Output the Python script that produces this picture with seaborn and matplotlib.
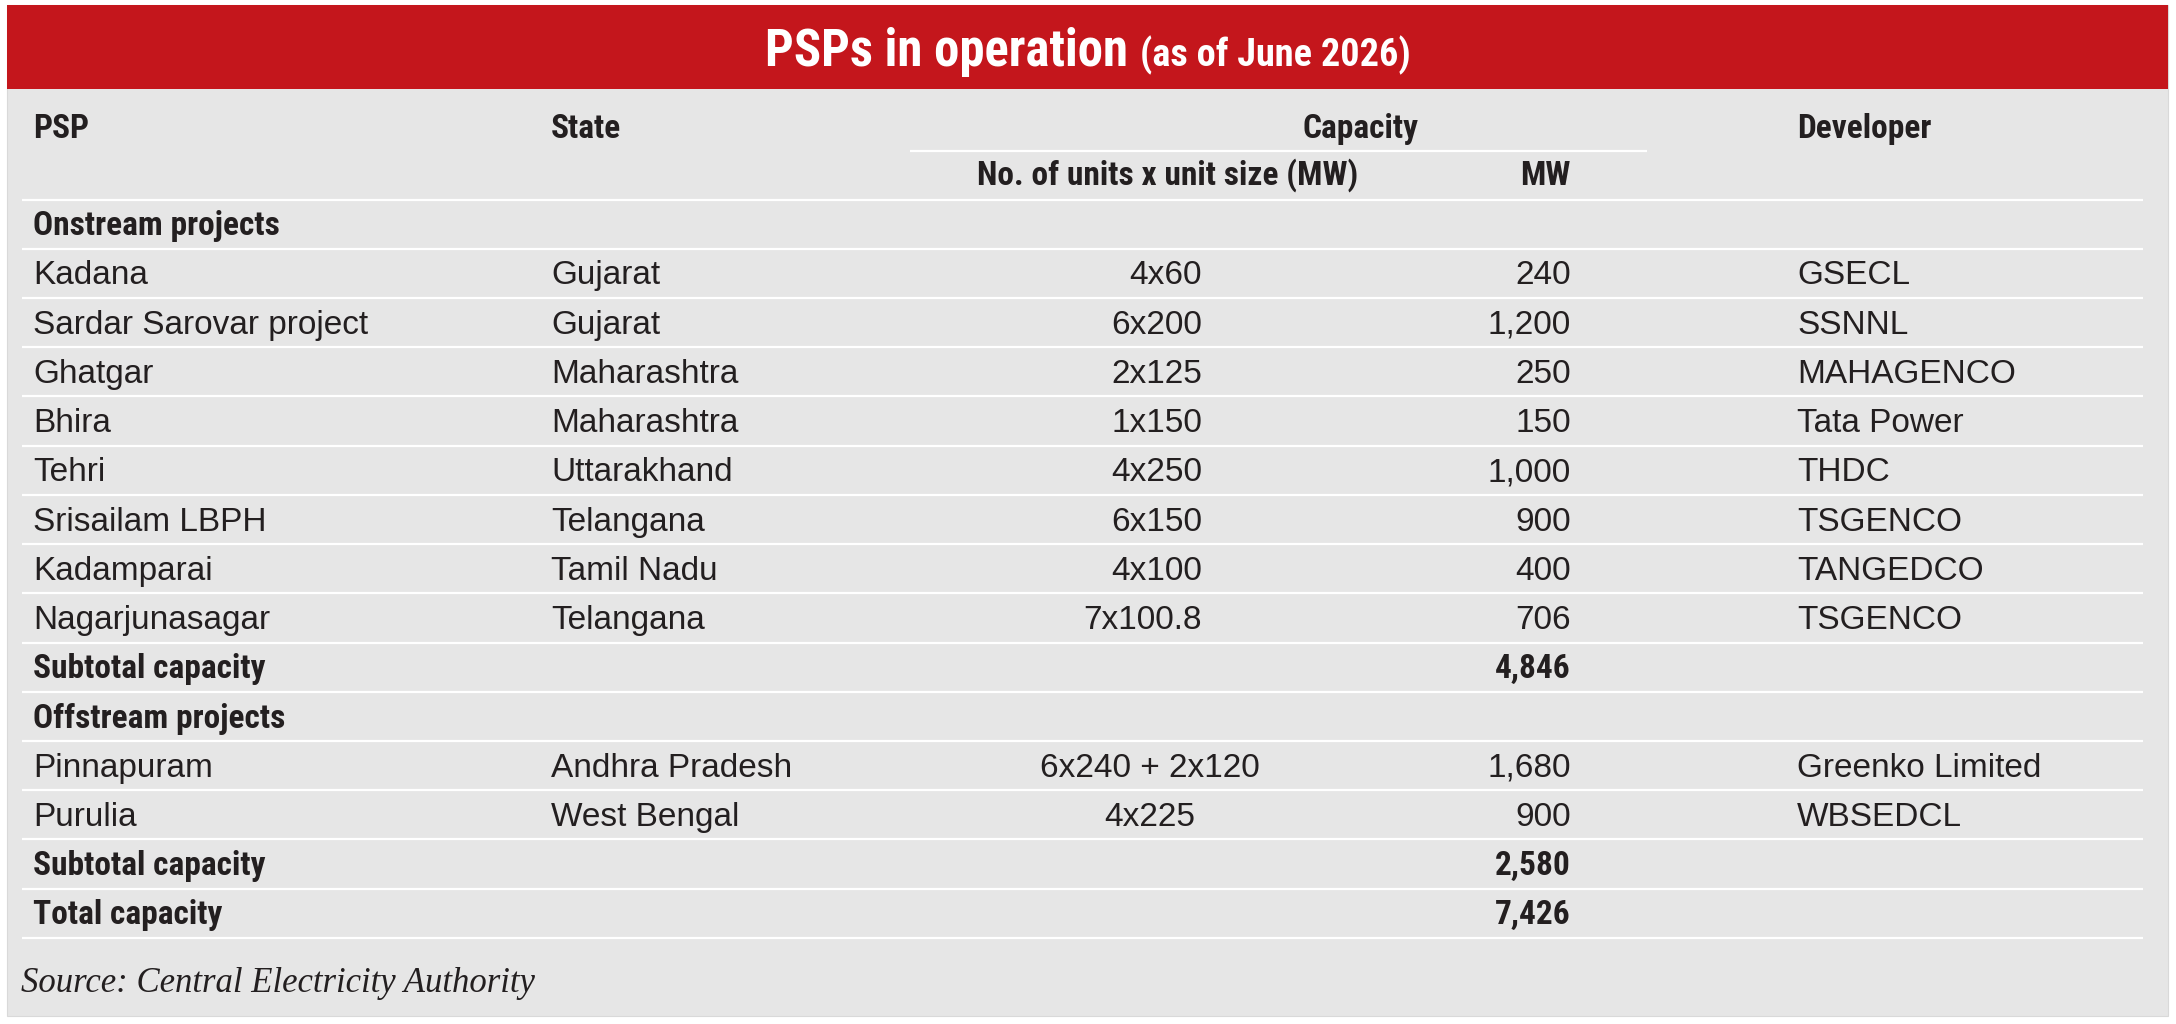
import matplotlib
matplotlib.use("Agg")
import matplotlib.pyplot as plt
import matplotlib.font_manager as fm
from matplotlib.patches import Rectangle
import seaborn as sns

# ---------------- data ----------------
title_main = "PSPs in operation"
title_sub = "(as of June 2026)"
col_headers = ["PSP", "State", "Capacity", "Developer"]
sub_headers = ["No. of units x unit size (MW)", "MW"]

on_psp = ["Kadana", "Sardar Sarovar project", "Ghatgar", "Bhira", "Tehri",
          "Srisailam LBPH", "Kadamparai", "Nagarjunasagar"]
on_state = ["Gujarat", "Gujarat", "Maharashtra", "Maharashtra", "Uttarakhand",
            "Telangana", "Tamil Nadu", "Telangana"]
on_units = ["4x60", "6x200", "2x125", "1x150", "4x250", "6x150", "4x100", "7x100.8"]
on_mw = [240, 1200, 250, 150, 1000, 900, 400, 706]
on_dev = ["GSECL", "SSNNL", "MAHAGENCO", "Tata Power", "THDC", "TSGENCO",
          "TANGEDCO", "TSGENCO"]

off_psp = ["Pinnapuram", "Purulia"]
off_state = ["Andhra Pradesh", "West Bengal"]
off_units = ["6x240 + 2x120", "4x225"]
off_mw = [1680, 900]
off_dev = ["Greenko Limited", "WBSEDCL"]

section_labels = ["Onstream projects", "Offstream projects"]
subtotal_label = "Subtotal capacity"
total_label = "Total capacity"
source = "Source: Central Electricity Authority"

# ---------------- style ----------------
sns.set_theme(style="white")


def pick(names, default="DejaVu Sans"):
    for n in names:
        try:
            fm.findfont(fm.FontProperties(family=n), fallback_to_default=False)
            return n
        except Exception:
            pass
    return default


NARROW = pick(["Liberation Sans Narrow", "Roboto Condensed", "DejaVu Sans"])
REG = pick(["Liberation Sans", "Arimo", "DejaVu Sans"])
SERIF = pick(["Liberation Serif", "DejaVu Serif"])
plt.rcParams["font.family"] = [REG, "DejaVu Sans"]

RED = "#c4161c"
GRAY = "#e6e6e6"
INK = "#231f20"

W, H = 2176, 1024
fig = plt.figure(figsize=(W / 100, H / 100), dpi=100)
fig.patch.set_facecolor("white")
ax = fig.add_axes([0, 0, 1, 1])
ax.set_xlim(0, W)
ax.set_ylim(H, 0)
ax.axis("off")

# panel + title band
ax.add_patch(Rectangle((7, 5), 2161, 1011, facecolor=GRAY, edgecolor="#d9d9d9", lw=0.8))
ax.add_patch(Rectangle((7, 5), 2161, 84, facecolor=RED, edgecolor="none"))

bold_kw = dict(family=[NARROW, "DejaVu Sans"], fontweight="bold", stretch="condensed", color=INK)
reg_kw = dict(family=[REG, "DejaVu Sans"], color=INK)

# title: measure both parts to center together
t1 = ax.text(0, 66, title_main, color="white", fontsize=36.5, va="baseline", ha="left",
             family=[NARROW, "DejaVu Sans"], fontweight="bold", stretch="condensed")
t2 = ax.text(0, 66, title_sub, color="white", fontsize=27.5, va="baseline", ha="left",
             family=[NARROW, "DejaVu Sans"], fontweight="bold", stretch="condensed")
fig.canvas.draw()
r = fig.canvas.get_renderer()
w1 = t1.get_window_extent(r).width
w2 = t2.get_window_extent(r).width
gap = 12
x0 = (7 + 2168) / 2 - (w1 + gap + w2) / 2
t1.set_x(x0)
t2.set_x(x0 + w1 + gap)

# column positions
X_PSP, X_STATE, X_UNITS_R, X_UNITS_C, X_MW_R, X_DEV = 33, 551, 1202, 1150, 1571, 1797
X_CAP_C, X_UNITSHDR_C = 1360, 1168
LINE_L, LINE_R = 22, 2143

# header
ax.text(X_PSP, 138, col_headers[0], fontsize=24, va="baseline", ha="left", **bold_kw)
ax.text(X_STATE, 138, col_headers[1], fontsize=24, va="baseline", ha="left", **bold_kw)
ax.text(X_CAP_C, 138, col_headers[2], fontsize=24, va="baseline", ha="center", **bold_kw)
ax.text(X_DEV, 138, col_headers[3], fontsize=24, va="baseline", ha="left", **bold_kw)
ax.plot([910, 1647], [151, 151], color="white", lw=1.6, solid_capstyle="butt")
ax.text(X_UNITSHDR_C, 185, sub_headers[0], fontsize=24, va="baseline", ha="center", **bold_kw)
ax.text(X_MW_R, 185, sub_headers[1], fontsize=24, va="baseline", ha="right", **bold_kw)

# rows
PITCH = 49.23
TOP_LINE = 199.5
ax.plot([LINE_L, LINE_R], [TOP_LINE, TOP_LINE], color="white", lw=1.6, solid_capstyle="butt")


def fmt(v):
    return f"{v:,}"


rows = []
rows.append(("section", section_labels[0]))
for p, s, u, m, d in zip(on_psp, on_state, on_units, on_mw, on_dev):
    rows.append(("data_r", p, s, u, m, d))
rows.append(("sub", subtotal_label, sum(on_mw)))
rows.append(("section", section_labels[1]))
for p, s, u, m, d in zip(off_psp, off_state, off_units, off_mw, off_dev):
    rows.append(("data_c", p, s, u, m, d))
rows.append(("sub", subtotal_label, sum(off_mw)))
rows.append(("sub", total_label, sum(on_mw) + sum(off_mw)))

FS = 24
for i, row in enumerate(rows):
    bottom = TOP_LINE + PITCH * (i + 1)
    base = bottom - 13.5
    kind = row[0]
    if kind == "section":
        ax.text(X_PSP, base, row[1], fontsize=24, va="baseline", ha="left", **bold_kw)
    elif kind == "sub":
        ax.text(X_PSP, base, row[1], fontsize=24, va="baseline", ha="left", **bold_kw)
        ax.text(X_MW_R, base, fmt(row[2]), fontsize=24, va="baseline", ha="right", **bold_kw)
    else:
        _, p, s, u, m, d = row
        ax.text(X_PSP, base, p, fontsize=FS, va="baseline", ha="left", **reg_kw)
        ax.text(X_STATE, base, s, fontsize=FS, va="baseline", ha="left", **reg_kw)
        if kind == "data_r":
            ax.text(X_UNITS_R, base, u, fontsize=FS, va="baseline", ha="right", **reg_kw)
        else:
            ax.text(X_UNITS_C, base, u, fontsize=FS, va="baseline", ha="center", **reg_kw)
        ax.text(X_MW_R, base, fmt(m), fontsize=FS, va="baseline", ha="right", **reg_kw)
        ax.text(X_DEV, base, d, fontsize=FS, va="baseline", ha="left", **reg_kw)
    ax.plot([LINE_L, LINE_R], [bottom, bottom], color="white", lw=1.6, solid_capstyle="butt")

ax.text(21, 992, source, fontsize=25, va="baseline", ha="left", style="italic",
        family=[SERIF, "DejaVu Serif"], color=INK)

fig.savefig("out.png", dpi=100, facecolor="white")
